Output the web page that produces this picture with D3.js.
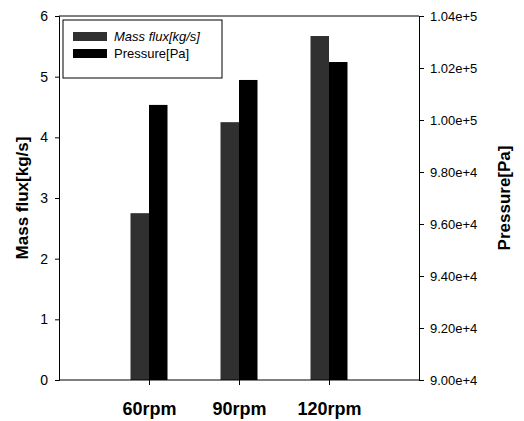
<!DOCTYPE html>
<html>
<head>
<meta charset="utf-8">
<script src="https://cdn.jsdelivr.net/npm/d3@7"></script>
<style>
  body { margin: 0; background: #fff; }
  svg { font-family: "Liberation Sans", Arial, sans-serif; }
</style>
</head>
<body>
<div class="chart"></div>
<script>
const width = 524;
const height = 421;
const margin = { top: 16, right: 105, bottom: 41, left: 59 };

const categorias = ["60rpm", "90rpm", "120rpm"];
const massFlux = [2.75, 4.25, 5.67];
const pressure = [100580, 101540, 102230];
const ticksIzq = [0, 1, 2, 3, 4, 5, 6];
const ticksDer = [90000, 92000, 94000, 96000, 98000, 100000, 102000, 104000];
const etiquetasDer = ["9.00e+4", "9.20e+4", "9.40e+4", "9.60e+4", "9.80e+4", "1.00e+5", "1.02e+5", "1.04e+5"];
const leyenda = ["Mass flux[kg/s]", "Pressure[Pa]"];

const innerW = width - margin.left - margin.right;
const innerH = height - margin.top - margin.bottom;

const svg = d3.select(".chart")
              .append("svg")
              .attr("width", width)
              .attr("height", height);

const g = svg.append("g")
             .attr("transform", `translate(${margin.left}, ${margin.top})`);

const escalaX = d3.scalePoint()
                  .domain(categorias)
                  .range([0, innerW])
                  .padding(1);

const escalaY = d3.scaleLinear().domain([0, 6]).range([innerH, 0]);
const escalaY2 = d3.scaleLinear().domain([90000, 104000]).range([innerH, 0]);

const barW = 18.5;
const colores = ["#303030", "#000"];

// bars
g.selectAll(".mass")
  .data(categorias)
  .join("rect")
  .attr("class", "mass")
  .attr("x", (d) => escalaX(d) - barW)
  .attr("y", (d, i) => escalaY(massFlux[i]))
  .attr("width", barW)
  .attr("height", (d, i) => innerH - escalaY(massFlux[i]))
  .attr("fill", colores[0]);

g.selectAll(".pres")
  .data(categorias)
  .join("rect")
  .attr("class", "pres")
  .attr("x", (d) => escalaX(d))
  .attr("y", (d, i) => escalaY2(pressure[i]))
  .attr("width", barW)
  .attr("height", (d, i) => innerH - escalaY2(pressure[i]))
  .attr("fill", colores[1]);

// frame
g.append("line").attr("x1", 0).attr("x2", innerW).attr("y1", 0).attr("y2", 0)
  .attr("stroke", "#000").attr("stroke-width", 1);

// axes
const ejeIzq = d3.axisLeft(escalaY).tickValues(ticksIzq).tickSize(4).tickPadding(7).tickFormat(d3.format("d"));
const ejeDer = d3.axisRight(escalaY2).tickValues(ticksDer).tickSize(5).tickPadding(6)
                 .tickFormat((d, i) => etiquetasDer[i]);
const ejeX = d3.axisBottom(escalaX).tickSize(5).tickPadding(17);

const gIzq = g.append("g").call(ejeIzq);
gIzq.selectAll("text").attr("font-size", 14).attr("fill", "#000");

const gDer = g.append("g").attr("transform", `translate(${innerW}, 0)`).call(ejeDer);
gDer.selectAll("text").attr("font-size", 13).attr("fill", "#000");

const gX = g.append("g").attr("transform", `translate(0, ${innerH})`).call(ejeX);
gX.select(".domain").attr("d", `M0,0H${innerW}`);
gX.selectAll("text").attr("font-size", 18).attr("font-weight", "bold").attr("fill", "#000");

svg.selectAll(".domain").attr("stroke", "#000");
svg.selectAll(".tick line").attr("stroke", "#000");

// axis titles
svg.append("text")
   .attr("transform", `translate(28, ${margin.top + innerH / 2}) rotate(-90)`)
   .attr("text-anchor", "middle")
   .attr("font-size", 17)
   .attr("font-weight", "bold")
   .text("Mass flux[kg/s]");

svg.append("text")
   .attr("transform", `translate(510, ${margin.top + innerH / 2}) rotate(-90)`)
   .attr("text-anchor", "middle")
   .attr("font-size", 17)
   .attr("font-weight", "bold")
   .text("Pressure[Pa]");

// legend
const leg = g.append("g").attr("transform", "translate(4, 4)");
leg.append("rect")
   .attr("width", 159).attr("height", 58)
   .attr("fill", "#fff").attr("stroke", "#000").attr("stroke-width", 1);

leyenda.forEach((t, i) => {
  leg.append("rect")
     .attr("x", 10).attr("y", 12 + i * 17)
     .attr("width", 34).attr("height", 9)
     .attr("fill", colores[i]);
  leg.append("text")
     .attr("x", 51).attr("y", 21 + i * 17)
     .attr("font-size", 13)
     .attr("font-style", i === 0 ? "italic" : "normal")
     .text(t);
});
</script>
</body>
</html>
